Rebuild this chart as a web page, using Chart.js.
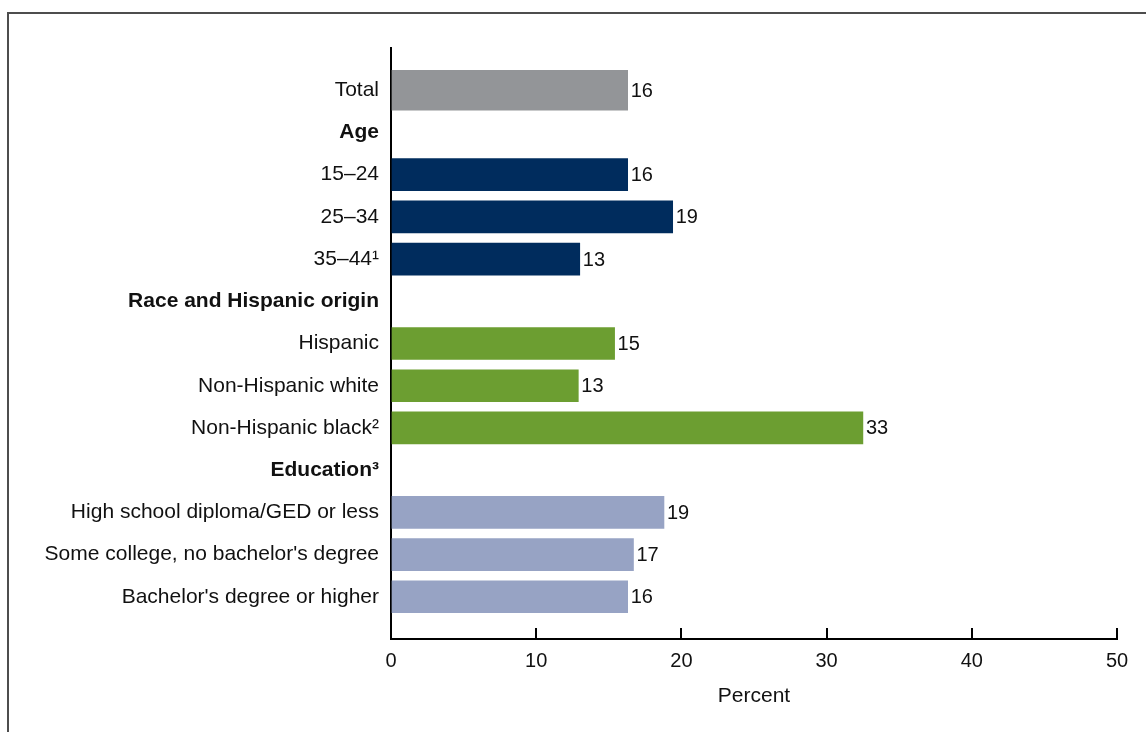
<!DOCTYPE html>
<html>
<head>
<meta charset="utf-8">
<script src="https://cdn.jsdelivr.net/npm/chart.js@4/dist/chart.umd.min.js"></script>
<style>
  html, body { margin: 0; padding: 0; background: #ffffff; }
  #wrap { position: relative; width: 1146px; height: 732px; overflow: hidden; }
  #frame { position: absolute; left: 7px; top: 12px; width: 1200px; height: 800px;
           border-top: 2px solid #4d4d4d; border-left: 2px solid #4d4d4d; }
  canvas { position: absolute; left: 0; top: 0; }
</style>
</head>
<body>
<div id="wrap">
  <div id="frame"></div>
  <canvas id="c" width="1146" height="732"></canvas>
</div>
<script>
// ---- Data ----
const categories = [
  "Total",
  "Age",
  "15–24",
  "25–34",
  "35–44¹",
  "Race and Hispanic origin",
  "Hispanic",
  "Non-Hispanic white",
  "Non-Hispanic black²",
  "Education³",
  "High school diploma/GED or less",
  "Some college, no bachelor's degree",
  "Bachelor's degree or higher"
];
const headerLabels = ["Age", "Race and Hispanic origin", "Education³"];

const totalValues     = [16.3];
const ageValues       = [16.3, 19.4, 13.0];
const raceValues      = [15.4, 12.9, 32.5];
const educationValues = [18.8, 16.7, 16.3];

const xTicks = [0, 10, 20, 30, 40, 50];

// ---- Build library structures ----
// padded rows: blank row at top and bottom so the axis runs past the bars
const rowLabels = [""].concat(categories, [""]);

function placeSeries(firstCategory, values) {
  const arr = rowLabels.map(() => null);
  const start = rowLabels.indexOf(firstCategory);
  values.forEach((v, i) => { arr[start + i] = v; });
  return arr;
}

const FONT = "'Liberation Sans', Arial, Helvetica, sans-serif";

const valueLabelPlugin = {
  id: 'valueLabels',
  afterDatasetsDraw(chart) {
    const ctx = chart.ctx;
    ctx.save();
    ctx.font = "20px " + FONT;
    ctx.fillStyle = "#111111";
    ctx.textAlign = "left";
    ctx.textBaseline = "middle";
    chart.data.datasets.forEach((ds, di) => {
      const meta = chart.getDatasetMeta(di);
      meta.data.forEach((bar, i) => {
        const v = ds.data[i];
        if (v === null || v === undefined) return;
        ctx.fillText(String(Math.round(v)), bar.x + 3, bar.y + 1);
      });
    });
    ctx.restore();
  }
};

const common = { grouped: false, borderWidth: 0, barThickness: 32 };

new Chart(document.getElementById('c'), {
  type: 'bar',
  data: {
    labels: rowLabels,
    datasets: [
      Object.assign({ label: 'Total', data: placeSeries("Total", totalValues), backgroundColor: '#939598' }, common, { barThickness: 40 }),
      Object.assign({ label: 'Age', data: placeSeries("15–24", ageValues), backgroundColor: '#002c5d' }, common),
      Object.assign({ label: 'Race and Hispanic origin', data: placeSeries("Hispanic", raceValues), backgroundColor: '#6c9e31' }, common),
      Object.assign({ label: 'Education', data: placeSeries("High school diploma/GED or less", educationValues), backgroundColor: '#97a3c4' }, common)
    ]
  },
  options: {
    indexAxis: 'y',
    responsive: false,
    animation: false,
    layout: { padding: { top: 48, right: 29, bottom: 0, left: 0 } },
    plugins: { legend: { display: false }, tooltip: { enabled: false } },
    scales: {
      y: {
        type: 'category',
        offset: false,
        grid: { display: true, drawOnChartArea: false, drawTicks: false },
        border: { display: true, color: '#000000', width: 2 },
        ticks: {
          autoSkip: false,
          padding: 12,
          color: '#111111',
          font: (ctx) => ({
            family: FONT,
            size: 21,
            weight: headerLabels.includes(rowLabels[ctx.index]) ? 'bold' : 'normal'
          })
        },
        afterFit: (scale) => { scale.width = 391; scale.paddingTop = 0; scale.paddingBottom = 0; }
      },
      x: {
        type: 'linear',
        min: xTicks[0],
        max: xTicks[xTicks.length - 1],
        afterBuildTicks: (scale) => { scale.ticks = xTicks.map(v => ({ value: v })); },
        grid: { display: true, drawOnChartArea: false, drawTicks: true, tickLength: -11, color: '#000000', lineWidth: 2 },
        border: { display: true, color: '#000000', width: 2 },
        ticks: {
          padding: 21,
          color: '#111111',
          font: { family: FONT, size: 20 }
        },
        title: {
          display: true,
          text: 'Percent',
          color: '#111111',
          font: { family: FONT, size: 21 },
          padding: { top: 0, bottom: 23 }
        },
        afterFit: (scale) => { scale.height = 93; scale.paddingLeft = 0; scale.paddingRight = 0; }
      }
    }
  },
  plugins: [valueLabelPlugin]
});
</script>
</body>
</html>
